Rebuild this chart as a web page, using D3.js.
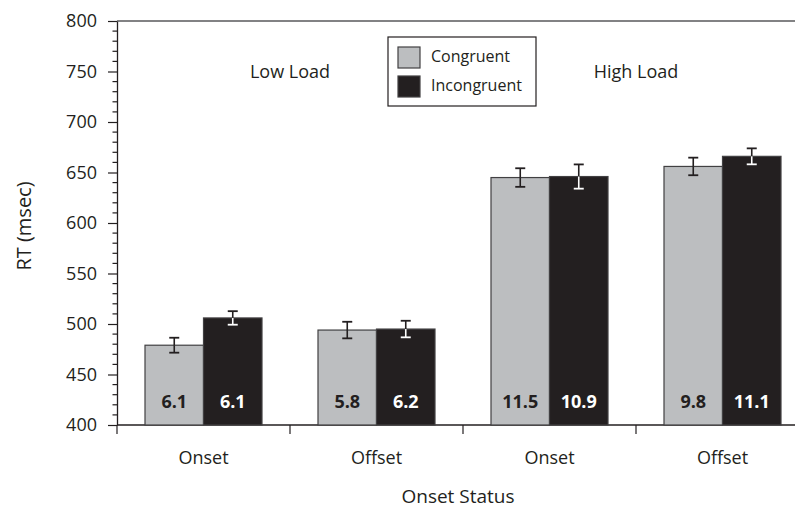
<!DOCTYPE html>
<html>
<head>
<meta charset="utf-8">
<script src="https://cdn.jsdelivr.net/npm/d3@7"></script>
<style>
  body { margin: 0; background: #fff; }
  text { font-family: "Open Sans", sans-serif; fill: #231f20; }
</style>
</head>
<body>
<div id="graph"></div>
<script>
// data
const categories = ['Onset', 'Offset', 'Onset', 'Offset']
const series = ['Congruent', 'Incongruent']
const congruent = [479, 494, 645, 656]
const incongruent = [506, 495, 646, 666]
const congruentErr = [7.4, 8.2, 9.2, 8.7]
const incongruentErr = [6.7, 8.2, 12, 7.9]
const congruentLabels = ['6.1', '5.8', '11.5', '9.8']
const incongruentLabels = ['6.1', '6.2', '10.9', '11.1']
const loadLabels = ['Low Load', 'High Load']
const yTicks = [400, 450, 500, 550, 600, 650, 700, 750, 800]

const width = 795
const height = 510
const left = 117
const bandW = 173
const plotTop = 21
const plotBottom = 425
const colors = { Congruent: '#bcbec0', Incongruent: '#231f20' }

const rows = categories.map((c, i) => ({
    idx: i,
    cat: c,
    vals: [
        { s: 'Congruent', v: congruent[i], e: congruentErr[i], lab: congruentLabels[i] },
        { s: 'Incongruent', v: incongruent[i], e: incongruentErr[i], lab: incongruentLabels[i] }
    ]
}))

const svg = d3.select('#graph')
    .append('svg')
    .attr('width', width)
    .attr('height', height)

const x0 = d3.scaleBand().domain(d3.range(categories.length)).range([left, left + bandW * categories.length])
const x1 = d3.scaleBand().domain(series).range([28, bandW - 28])
const y = d3.scaleLinear().domain([400, 800]).range([plotBottom, plotTop])

// top frame line
svg.append('line')
    .attr('x1', left).attr('x2', width)
    .attr('y1', y(800)).attr('y2', y(800))
    .attr('stroke', '#58595b').attr('stroke-width', 1.3)

// y axis with minor ticks
const yAxis = svg.append('g').attr('transform', `translate(${left},0)`)
yAxis.selectAll('line.minor')
    .data(d3.range(400, 801, 10).filter(v => v % 50 !== 0))
    .enter().append('line')
    .attr('x1', -4.5).attr('x2', 0)
    .attr('y1', d => y(d)).attr('y2', d => y(d))
    .attr('stroke', '#231f20').attr('stroke-width', 1.2)
yAxis.call(d3.axisLeft(y).tickValues(yTicks).tickSize(9).tickPadding(11).tickSizeOuter(0))
yAxis.select('.domain').attr('stroke', '#231f20').attr('stroke-width', 1.3)
yAxis.selectAll('.tick line').attr('stroke', '#231f20').attr('stroke-width', 1.2)
yAxis.selectAll('.tick text').style('font-size', '18px').attr('fill', '#231f20')

// x axis
const xAxis = svg.append('g').attr('transform', `translate(0,${plotBottom})`)
xAxis.append('line')
    .attr('x1', left).attr('x2', width)
    .attr('stroke', '#231f20').attr('stroke-width', 1.3)
xAxis.selectAll('line.tick')
    .data(d3.range(categories.length + 1))
    .enter().append('line')
    .attr('x1', d => left + d * bandW).attr('x2', d => left + d * bandW)
    .attr('y1', 0).attr('y2', 9)
    .attr('stroke', '#231f20').attr('stroke-width', 1.2)
xAxis.selectAll('text')
    .data(rows)
    .enter().append('text')
    .attr('x', d => x0(d.idx) + bandW / 2)
    .attr('y', 39)
    .attr('text-anchor', 'middle')
    .style('font-size', '18px')
    .text(d => d.cat)

// bars
const groups = svg.selectAll('g.grp')
    .data(rows)
    .enter().append('g')
    .attr('class', 'grp')
    .attr('transform', d => `translate(${x0(d.idx)},0)`)

groups.selectAll('rect')
    .data(d => d.vals)
    .enter().append('rect')
    .attr('x', d => x1(d.s))
    .attr('y', d => y(d.v))
    .attr('width', x1.bandwidth())
    .attr('height', d => y(400) - y(d.v))
    .attr('fill', d => colors[d.s])
    .attr('stroke', '#414042')
    .attr('stroke-width', 1.2)

// error bars: white where they run inside dark bars
const cap = 5
groups.selectAll('g.err')
    .data(d => d.vals)
    .enter().append('g')
    .attr('class', 'err')
    .each(function (d) {
        const g = d3.select(this)
        const cx = x1(d.s) + x1.bandwidth() / 2
        const inner = d.s === 'Incongruent' ? '#ffffff' : '#231f20'
        // upper half (above bar top)
        g.append('line')
            .attr('x1', cx).attr('x2', cx)
            .attr('y1', y(d.v + d.e)).attr('y2', y(d.v))
            .attr('stroke', '#231f20').attr('stroke-width', 1.6)
        g.append('line')
            .attr('x1', cx - cap).attr('x2', cx + cap)
            .attr('y1', y(d.v + d.e)).attr('y2', y(d.v + d.e))
            .attr('stroke', '#231f20').attr('stroke-width', 1.8)
        // lower half (inside the bar)
        g.append('line')
            .attr('x1', cx).attr('x2', cx)
            .attr('y1', y(d.v)).attr('y2', y(d.v - d.e))
            .attr('stroke', inner).attr('stroke-width', 1.6)
        g.append('line')
            .attr('x1', cx - cap).attr('x2', cx + cap)
            .attr('y1', y(d.v - d.e)).attr('y2', y(d.v - d.e))
            .attr('stroke', inner).attr('stroke-width', 1.8)
    })

// values inside bars
groups.selectAll('text.val')
    .data(d => d.vals)
    .enter().append('text')
    .attr('class', 'val')
    .attr('x', d => x1(d.s) + x1.bandwidth() / 2)
    .attr('y', 408)
    .attr('text-anchor', 'middle')
    .style('font-size', '18px')
    .style('font-weight', 'bold')
    .style('fill', d => d.s === 'Incongruent' ? '#ffffff' : '#231f20')
    .text(d => d.lab)

// load labels
svg.selectAll('text.load')
    .data(loadLabels)
    .enter().append('text')
    .attr('class', 'load')
    .attr('x', (d, i) => left + bandW * (2 * i + 1))
    .attr('y', 78)
    .attr('text-anchor', 'middle')
    .style('font-size', '18px')
    .text(d => d)

// axis titles
svg.append('text')
    .attr('transform', 'translate(31,226) rotate(-90)')
    .attr('text-anchor', 'middle')
    .style('font-size', '20px')
    .text('RT (msec)')

svg.append('text')
    .attr('x', left + bandW * 2 - 5)
    .attr('y', 503)
    .attr('text-anchor', 'middle')
    .style('font-size', '19px')
    .text('Onset Status')

// legend
const legend = svg.append('g').attr('id', 'legend').attr('transform', 'translate(388,37)')
legend.append('rect')
    .attr('width', 148).attr('height', 69)
    .attr('fill', '#fff').attr('stroke', '#231f20').attr('stroke-width', 1.2)
legend.selectAll('rect.sw')
    .data(series)
    .enter().append('rect')
    .attr('class', 'sw')
    .attr('x', 10).attr('y', (d, i) => 10 + i * 29)
    .attr('width', 22).attr('height', 21)
    .attr('fill', d => colors[d])
    .attr('stroke', '#414042').attr('stroke-width', 1.2)
legend.selectAll('text')
    .data(series)
    .enter().append('text')
    .attr('x', 43).attr('y', (d, i) => 25 + i * 29)
    .style('font-size', '16px')
    .text(d => d)
</script>
</body>
</html>
